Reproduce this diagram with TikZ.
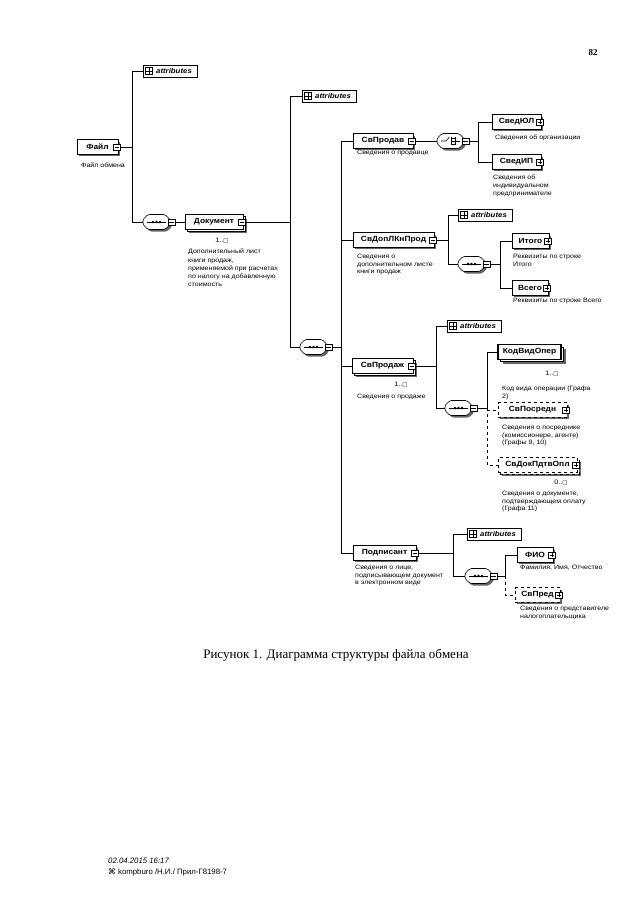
\documentclass[tikz,border=0pt]{standalone}
\usepackage{fontspec}
\setmainfont{Liberation Serif}
\newfontfamily\xmlf[FakeStretch=1.12]{Liberation Sans}
\newfontfamily\arialf{Liberation Sans}
\newfontfamily\dejavuf{DejaVu Sans}
\usetikzlibrary{calc,shadows}
\newcommand\sqbox{{\dejavuf\fontsize{5.5}{6}\selectfont □}}
\tikzset{
  conn/.style={line width=0.6pt},
  el/.style={draw, line width=0.8pt, fill=white, font=\xmlf\bfseries\fontsize{7.5}{8}\selectfont,
    minimum height=14.5, inner xsep=2, inner ysep=0},
  sh/.style={general shadow={fill=black!60, shadow xshift=2.2pt, shadow yshift=-2.2pt}},
  multi/.style={general shadow={fill=black!60, shadow xshift=4pt, shadow yshift=-4pt},
    general shadow={fill=white, draw=black, line width=0.6pt, shadow xshift=2pt, shadow yshift=-2pt}},
  opt/.style={dashed},
  minusbtn/.style={draw, fill=white, line width=0.5pt, minimum size=6.5, inner sep=0,
    path picture={\draw[line width=0.6pt] ([xshift=1.2pt]path picture bounding box.west) -- ([xshift=-1.2pt]path picture bounding box.east);}},
  plusbtn/.style={draw, fill=white, line width=0.5pt, minimum size=6.5, inner sep=0,
    path picture={\draw[line width=0.6pt] ([xshift=1.2pt]path picture bounding box.west) -- ([xshift=-1.2pt]path picture bounding box.east)
      ([yshift=-1.2pt]path picture bounding box.north) -- ([yshift=1.2pt]path picture bounding box.south);}},
  plusicon/.style={draw, fill=white, line width=0.5pt, minimum size=7, inner sep=0,
    path picture={\draw[line width=0.5pt] (path picture bounding box.west) -- (path picture bounding box.east)
      (path picture bounding box.north) -- (path picture bounding box.south);}},
  attr/.style={draw, fill=white, line width=0.6pt, minimum width=54, minimum height=12, inner sep=1,
    font=\xmlf\bfseries\itshape\fontsize{7}{8}\selectfont,
    general shadow={fill=black!50, shadow xshift=1.2pt, shadow yshift=-1.2pt}},
  desc/.style={font=\xmlf\fontsize{6.3}{7.6}\selectfont, anchor=north west, align=left, inner sep=0},
  card/.style={font=\xmlf\fontsize{6.5}{7}\selectfont, inner sep=0},
}
% element box: [style] name, x-left, y-centre, width, text, button style
\newcommand\elbox[7][sh]{%
  \node[el,#1,minimum width=#5] (#2) at ({#3+#5/2},#4) {#6\hspace{6pt}};
  \node[#7] (#2b) at ($(#2.east)+(-1.5,0)$) {};}
\newcommand\octpath[2]{({#1+5},{#2-7.5}) -- ({#1+22},{#2-7.5}) -- ({#1+27},{#2-2.5}) -- ({#1+27},{#2+2.5}) -- ({#1+22},{#2+7.5}) -- ({#1+5},{#2+7.5}) -- (#1,{#2+2.5}) -- (#1,{#2-2.5}) -- cycle}
\newcommand\seqsym[3]{%
  \fill[black!60, rounded corners=1.5pt] \octpath{#2+2}{#3+2};
  \draw[conn, fill=white, rounded corners=1.5pt] \octpath{#2}{#3};
  \node[inner sep=0, minimum width=27, minimum height=15] (#1) at ({#2+13.5},#3) {};
  \draw[conn] ({#2+4},#3) -- ({#2+23},#3);
  \foreach \d in {-3.4,0,3.4} \fill ({#2+13.5+\d},#3) circle (1.4);
  \node[minusbtn] (#1b) at ({#2+28.5},#3) {};}
\newcommand\choicesym[3]{%
  \fill[black!60, rounded corners=1.5pt] \octpath{#2+2}{#3+2};
  \draw[conn, fill=white, rounded corners=1.5pt] \octpath{#2}{#3};
  \node[inner sep=0, minimum width=27, minimum height=15] (#1) at ({#2+13.5},#3) {};
  \draw[conn] ({#2+4},#3) -- ({#2+9},#3) -- ({#2+12.5},{#3-4});
  \draw[conn] ({#2+14},{#3-4}) -- ({#2+14},{#3+4});
  \draw[conn] ({#2+14},{#3-3}) -- ({#2+18},{#3-3}) ({#2+14},#3) -- ({#2+23},#3) ({#2+14},{#3+3}) -- ({#2+18},{#3+3});
  \draw[conn] ({#2+18},{#3-4}) -- ({#2+18},{#3+4});
  \node[minusbtn] (#1b) at ({#2+28.5},#3) {};}
\newcommand\attrbox[3]{%
  \node[attr] (#1) at ({#2+27},#3) {\hspace{8pt}attributes};
  \node[plusicon] (#1i) at ({#2+6},#3) {};}
\begin{document}
\begin{tikzpicture}[x=1pt,y=-1pt]
\useasboundingbox[fill=white] (0,0) rectangle (640,905);
% vertical bus lines
\coordinate (vF) at (132,0);
\coordinate (vD) at (290,0);
\coordinate (vM) at (341,0);
\coordinate (vP) at (478,0);
\coordinate (vDL) at (448,0);
\coordinate (vDLs) at (500,0);
\coordinate (vSP) at (436,0);
\coordinate (vSPs) at (487,0);
\coordinate (vPd) at (453,0);
\coordinate (vPds) at (505,0);

\node[font=\bfseries\fontsize{9}{10}\selectfont] (pgnum) at (593,53) {82};

% ---- elements
\elbox{fail}{77}{147}{41}{Файл}{minusbtn}
\attrbox{attrF}{143}{71}
\seqsym{seqD}{143}{222}
\elbox[multi]{doc}{185}{222}{58}{Документ}{minusbtn}
\attrbox{attrD}{302}{96}
\seqsym{seqM}{300}{347}
\elbox{prodav}{353}{141}{60}{СвПродав}{minusbtn}
\choicesym{choiceP}{437}{141}
\elbox{svul}{492}{122}{49}{СведЮЛ}{plusbtn}
\elbox{svip}{492}{162}{49}{СведИП}{plusbtn}
\elbox{dopl}{353}{240}{81}{СвДопЛКнПрод}{minusbtn}
\attrbox{attrDL}{458}{215}
\seqsym{seqDL}{458}{264}
\elbox{itogo}{512}{241}{37}{Итого}{plusbtn}
\elbox{vsego}{512}{288}{36}{Всего}{plusbtn}
\elbox[multi]{prodazh}{352}{366}{61}{СвПродаж}{minusbtn}
\attrbox{attrSP}{447}{326}
\seqsym{seqSP}{445}{408}
\node[el, line width=1.3pt, minimum width=63,
  general shadow={fill=black!60, shadow xshift=4.5pt, shadow yshift=-4.5pt},
  general shadow={fill=white, draw=black, line width=0.8pt, shadow xshift=2.5pt, shadow yshift=-2.5pt}]
  (kodvid) at (529.5,352) {КодВидОпер};
\elbox[sh,opt]{posredn}{498}{410}{69}{СвПосредн}{plusbtn}
\elbox[multi,opt]{dokpdtv}{498}{465}{79}{СвДокПдтвОпл}{plusbtn}
\elbox{podp}{353}{553}{63}{Подписант}{minusbtn}
\attrbox{attrPd}{467}{534}
\seqsym{seqPd}{465}{576}
\elbox{fio}{517}{555}{36}{ФИО}{plusbtn}
\elbox[sh,opt]{svpred}{515}{595}{45}{СвПред}{plusbtn}

% ---- cardinalities
\node[card] (docc) at (222,241) {1..\sqbox};
\node[card] (prodazhc) at (401,385) {1..\sqbox};
\node[card] (kodvidc) at (552,374) {1..\sqbox};
\node[card] (dokpdtvc) at (561,483) {0..\sqbox};

% ---- descriptions
\node[desc] (failt) at (81,163) {Файл обмена};
\node[desc, font=\xmlf\fontsize{6.3}{8.2}\selectfont] (doct) at (188,249) {Дополнительный лист\\книги продаж,\\применяемой при расчетах\\по налогу на добавленную\\стоимость};
\node[desc] (prodavt) at (357,150) {Сведения о продавце};
\node[desc] (svult) at (495,135) {Сведения об организации};
\node[desc] (svipt) at (493,175) {Сведения об\\индивидуальном\\предпринимателе};
\node[desc] (doplt) at (357,254) {Сведения о\\дополнительном листе\\книги продаж};
\node[desc] (itogot) at (513,254) {Реквизиты по строке\\Итого};
\node[desc] (vsegot) at (513,298) {Реквизиты по строке Всего};
\node[desc] (prodazht) at (357,394) {Сведения о продаже};
\node[desc] (kodvidt) at (502,386) {Код вида операции (Графа\\2)};
\node[desc] (posrednt) at (502,425) {Сведения о посреднике\\(комиссионере, агенте)\\(Графы 9, 10)};
\node[desc] (dokpdtvt) at (502,491) {Сведения о документе,\\подтверждающем оплату\\(Графа 11)};
\node[desc] (podpt) at (355,565) {Сведения о лице,\\подписывающем документ\\в электронном виде};
\node[desc] (fiot) at (520,565) {Фамилия, Имя, Отчество};
\node[desc] (svpredt) at (520,606) {Сведения о представителе\\налогоплательщика};

% ---- connectors
\draw[conn] (failb.east) -- (vF |- failb.east);
\draw[conn] (attrF.west) -- (vF |- attrF.west) -- (vF |- seqD.west) -- (seqD.west);
\draw[conn] (seqDb.east) -- (doc.west);
\draw[conn] (docb.east) -- (vD |- docb.east);
\draw[conn] (attrD.west) -- (vD |- attrD.west) -- (vD |- seqM.west) -- (seqM.west);
\draw[conn] (seqMb.east) -- (vM |- seqMb.east);
\draw[conn] (prodav.west) -- (vM |- prodav.west) -- (vM |- podp.west) -- (podp.west);
\draw[conn] (vM |- dopl.west) -- (dopl.west);
\draw[conn] (vM |- prodazh.west) -- (prodazh.west);
\draw[conn] (prodavb.east) -- (choiceP.west);
\draw[conn] (choicePb.east) -- (vP |- choicePb.east);
\draw[conn] (svul.west) -- (vP |- svul.west) -- (vP |- svip.west) -- (svip.west);
\draw[conn] (doplb.east) -- (vDL |- doplb.east);
\draw[conn] (attrDL.west) -- (vDL |- attrDL.west) -- (vDL |- seqDL.west) -- (seqDL.west);
\draw[conn] (seqDLb.east) -- (vDLs |- seqDLb.east);
\draw[conn] (itogo.west) -- (vDLs |- itogo.west) -- (vDLs |- vsego.west) -- (vsego.west);
\draw[conn] (prodazhb.east) -- (vSP |- prodazhb.east);
\draw[conn] (attrSP.west) -- (vSP |- attrSP.west) -- (vSP |- seqSP.west) -- (seqSP.west);
\draw[conn] (seqSPb.east) -- (vSPs |- seqSPb.east);
\draw[conn] (kodvid.west) -- (vSPs |- kodvid.west) -- (vSPs |- seqSPb.east);
\draw[conn, dashed] (vSPs |- seqSPb.east) -- (vSPs |- dokpdtv.west) -- (dokpdtv.west);
\draw[conn, dashed] (vSPs |- posredn.west) -- (posredn.west);
\draw[conn] (podpb.east) -- (vPd |- podpb.east);
\draw[conn] (attrPd.west) -- (vPd |- attrPd.west) -- (vPd |- seqPd.west) -- (seqPd.west);
\draw[conn] (seqPdb.east) -- (vPds |- seqPdb.east);
\draw[conn] (fio.west) -- (vPds |- fio.west) -- (vPds |- seqPdb.east);
\draw[conn, dashed] (vPds |- seqPdb.east) -- (vPds |- svpred.west) -- (svpred.west);

% ---- caption and footer
\node[font=\fontsize{13}{15}\selectfont] (caption) at (336,655) {Рисунок 1. Диаграмма структуры файла обмена};
\node[anchor=west, inner sep=0, font=\arialf\itshape\fontsize{7.8}{9}\selectfont] (foot1) at (108,861) {02.04.2015 16:17};
\node[anchor=west, inner sep=0, font=\arialf\fontsize{7.8}{9}\selectfont] (foot2) at (108,872) {{\dejavuf ⌘} kompburo /Н.И./ Прил-Г8198-7};
\end{tikzpicture}
\end{document}
